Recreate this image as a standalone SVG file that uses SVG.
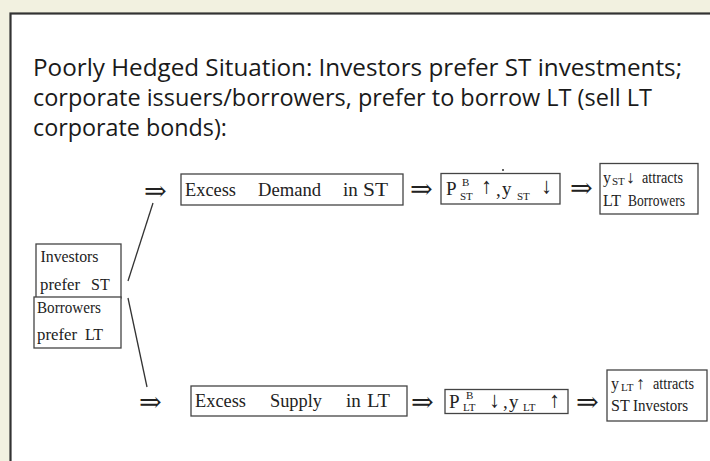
<svg xmlns="http://www.w3.org/2000/svg" width="710" height="461" viewBox="0 0 710 461">
<style>
.title{font-family:"Open Sans","Noto Sans","Liberation Sans",sans-serif;font-size:24.5px;fill:#1a1a1a}
.t{font-family:"Liberation Serif","DejaVu Serif",serif;font-size:19px;fill:#222}
.s{font-family:"Liberation Serif","DejaVu Serif",serif;font-size:16px;fill:#222}
.sub{font-family:"Liberation Serif","DejaVu Serif",serif;font-size:11px;fill:#222}
.ar{font-family:"Liberation Serif","DejaVu Serif",serif;font-size:22px;fill:#222}
.ar2{font-family:"Liberation Serif","DejaVu Serif",serif;font-size:18px;fill:#222}
.arr{font-family:"DejaVu Serif","Liberation Serif",serif;font-size:27px;fill:#222}
.box{fill:#fff;stroke:#444;stroke-width:1.3}
.ln{stroke:#333;stroke-width:1.3;fill:none}
</style>
<rect x="0" y="0" width="710" height="461" fill="#f2f1e0"/>
<rect x="10.5" y="13.5" width="710" height="460" fill="#fff" stroke="#333" stroke-width="2.2"/>
<g id="title">
<text class="title" x="33" y="76" textLength="649" lengthAdjust="spacingAndGlyphs">Poorly Hedged Situation: Investors prefer ST investments;</text>
<text class="title" x="33" y="106" textLength="619" lengthAdjust="spacingAndGlyphs">corporate issuers/borrowers, prefer to borrow LT (sell LT</text>
<text class="title" x="33" y="136" textLength="194" lengthAdjust="spacingAndGlyphs">corporate bonds):</text>
</g>
<g id="connectors">
<line class="ln" x1="128" y1="281" x2="153" y2="203"/>
<line class="ln" x1="128" y1="298" x2="147" y2="387"/>
<text class="arr" x="144" y="200">⇒</text>
<text class="arr" x="410" y="198">⇒</text>
<text class="arr" x="570" y="197">⇒</text>
<text class="arr" x="139" y="411">⇒</text>
<text class="arr" x="411" y="411">⇒</text>
<text class="arr" x="576" y="411">⇒</text>
</g>
<g id="investors">
<rect class="box" x="36" y="244" width="85" height="54"/>
<text class="s" x="40.5" y="262" textLength="58" lengthAdjust="spacingAndGlyphs">Investors</text>
<text class="s" x="40" y="290" textLength="40" lengthAdjust="spacingAndGlyphs">prefer</text>
<text class="s" x="91" y="290">ST</text>
</g>
<g id="borrowers">
<rect class="box" x="34" y="297" width="87" height="51"/>
<text class="s" x="37" y="313" textLength="64" lengthAdjust="spacingAndGlyphs">Borrowers</text>
<text class="s" x="37" y="340" textLength="40" lengthAdjust="spacingAndGlyphs">prefer</text>
<text class="s" x="85" y="340">LT</text>
</g>
<g id="excess-demand">
<rect class="box" x="181" y="174" width="222" height="31"/>
<text class="t" x="185" y="196" textLength="51" lengthAdjust="spacingAndGlyphs">Excess</text>
<text class="t" x="258" y="196" textLength="63" lengthAdjust="spacingAndGlyphs">Demand</text>
<text class="t" x="343" y="196">in</text>
<text class="t" x="363" y="196" textLength="25" lengthAdjust="spacingAndGlyphs">ST</text>
</g>
<g id="price-st">
<rect class="box" x="441" y="173.5" width="119" height="30.5"/>
<circle cx="503" cy="170" r="1" fill="#333"/>
<text class="t" x="446" y="195">P</text>
<text class="sub" x="462" y="186">B</text>
<text class="sub" x="460" y="200">ST</text>
<text class="ar" x="481" y="193">↑</text>
<text class="t" x="496" y="196">,</text>
<text class="t" x="502" y="195">y</text>
<text class="sub" x="517" y="200">ST</text>
<text class="ar" x="541" y="193">↓</text>
</g>
<g id="attracts-lt">
<rect class="box" x="600" y="163.5" width="98" height="50.5"/>
<text class="s" x="603" y="183">y</text>
<text class="sub" x="612" y="185">ST</text>
<text class="ar2" x="626" y="183">↓</text>
<text class="s" x="642" y="183" textLength="41" lengthAdjust="spacingAndGlyphs">attracts</text>
<text class="s" x="603" y="206">LT</text>
<text class="s" x="628" y="206" textLength="57" lengthAdjust="spacingAndGlyphs">Borrowers</text>
</g>
<g id="excess-supply">
<rect class="box" x="191" y="386" width="216" height="30"/>
<text class="t" x="195" y="407" textLength="51" lengthAdjust="spacingAndGlyphs">Excess</text>
<text class="t" x="270" y="407" textLength="52" lengthAdjust="spacingAndGlyphs">Supply</text>
<text class="t" x="346" y="407">in</text>
<text class="t" x="367" y="407" textLength="23" lengthAdjust="spacingAndGlyphs">LT</text>
</g>
<g id="price-lt">
<rect class="box" x="445" y="389.5" width="123" height="24"/>
<text class="t" x="449" y="408">P</text>
<text class="sub" x="466" y="399">B</text>
<text class="sub" x="463" y="411">LT</text>
<text class="ar" x="489" y="407">↓</text>
<text class="t" x="503" y="408">,</text>
<text class="t" x="509" y="408">y</text>
<text class="sub" x="523" y="411">LT</text>
<text class="ar" x="549" y="407">↑</text>
</g>
<g id="attracts-st">
<rect class="box" x="607" y="370" width="100" height="51"/>
<text class="s" x="611" y="389">y</text>
<text class="sub" x="621" y="391">LT</text>
<text class="ar2" x="636" y="389">↑</text>
<text class="s" x="653" y="389" textLength="41" lengthAdjust="spacingAndGlyphs">attracts</text>
<text class="s" x="611" y="411">ST</text>
<text class="s" x="633" y="411" textLength="55" lengthAdjust="spacingAndGlyphs">Investors</text>
</g>
</svg>
